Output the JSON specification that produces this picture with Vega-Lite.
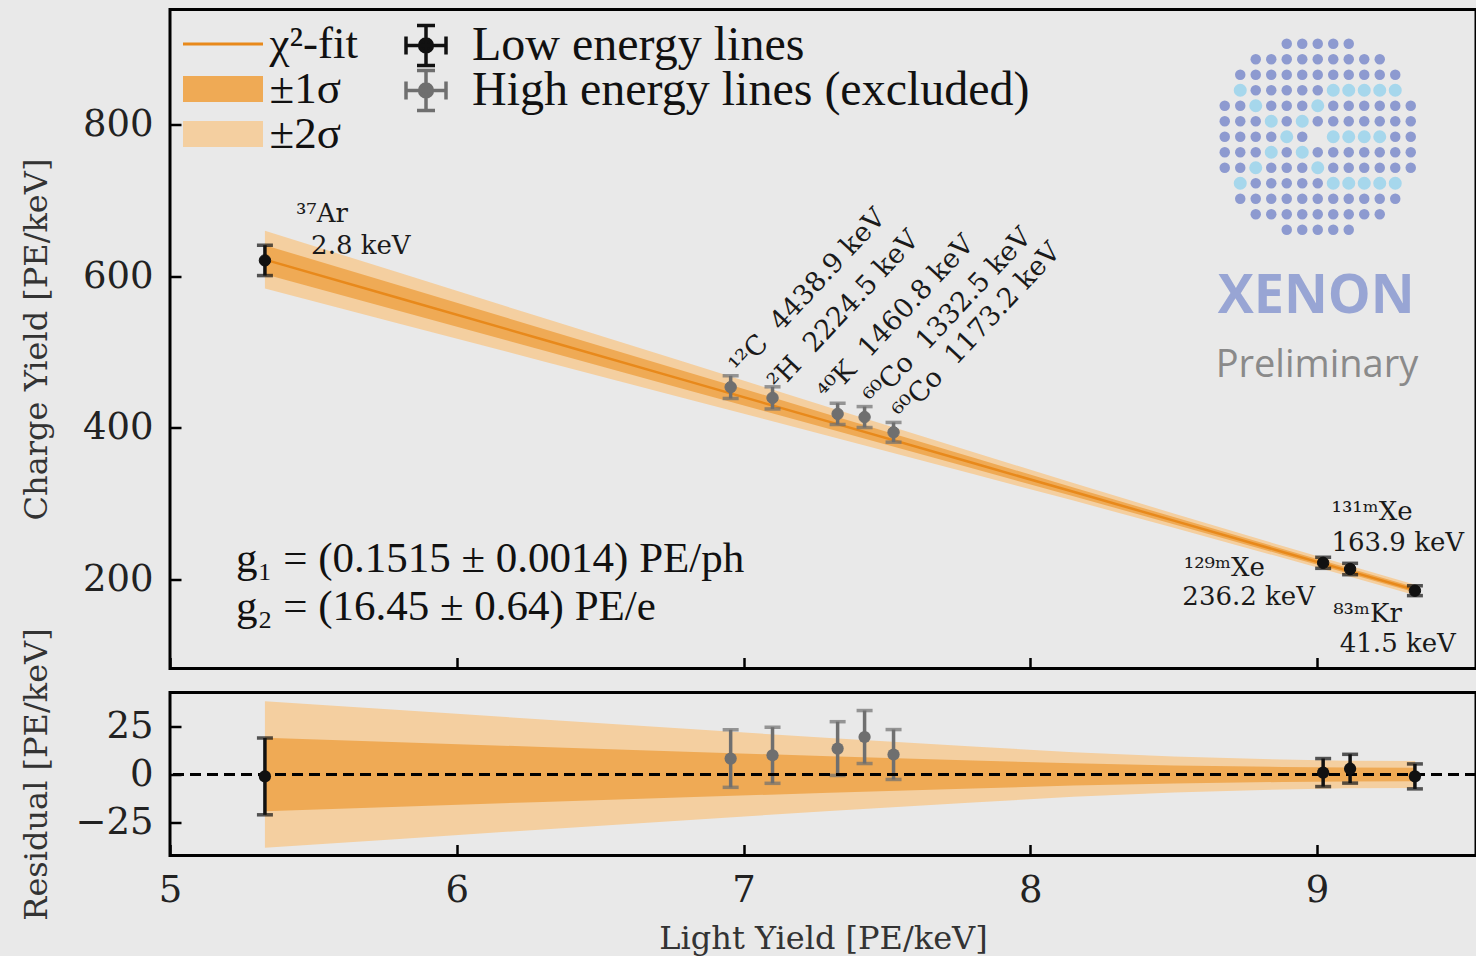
{
  "$schema": "https://vega.github.io/schema/vega-lite/v6.json",
  "background": "#e9e9e9",
  "padding": {"left": 18, "top": 7.5, "right": 0, "bottom": 0},
  "config": {
    "view": {"stroke": "#000000", "strokeWidth": 3},
    "axis": {"domain": false, "grid": false, "tickSize": -11, "tickWidth": 2.5, "tickColor": "#000000", "labelFont": "DejaVu Serif", "labelFontSize": 37, "labelColor": "#222222", "labelPadding": 28, "labelFlush": false, "labelOverlap": false, "titleFont": "DejaVu Serif", "titleFontSize": 32, "titleFontWeight": "normal", "titleColor": "#333333"},
    "legend": {"title": null, "orient": "none", "padding": 0, "labelFont": "Liberation Serif", "labelFontSize": 48, "labelColor": "#111111", "labelLimit": 0, "symbolSize": 1600, "symbolStrokeWidth": 3, "direction": "vertical"}
  },
  "datasets": {
    "band": [
      {"ly": 5.331, "fit": 621.8, "lo1": 602.7, "hi1": 640.9, "lo2": 583.6, "hi2": 660.0, "rlo1": -19.1, "rhi1": 19.1, "rlo2": -38.2, "rhi2": 38.2},
      {"ly": 5.8, "fit": 570.8, "lo1": 554.0, "hi1": 587.6, "lo2": 537.2, "hi2": 604.4, "rlo1": -16.8, "rhi1": 16.8, "rlo2": -33.6, "rhi2": 33.6},
      {"ly": 6.3, "fit": 516.5, "lo1": 502.2, "hi1": 530.8, "lo2": 487.9, "hi2": 545.1, "rlo1": -14.3, "rhi1": 14.3, "rlo2": -28.6, "rhi2": 28.6},
      {"ly": 6.8, "fit": 462.2, "lo1": 450.3, "hi1": 474.1, "lo2": 438.4, "hi2": 486.0, "rlo1": -11.9, "rhi1": 11.9, "rlo2": -23.8, "rhi2": 23.8},
      {"ly": 7.3, "fit": 407.9, "lo1": 398.4, "hi1": 417.4, "lo2": 388.9, "hi2": 426.9, "rlo1": -9.5, "rhi1": 9.5, "rlo2": -19.0, "rhi2": 19.0},
      {"ly": 7.8, "fit": 353.6, "lo1": 346.3, "hi1": 360.9, "lo2": 339.0, "hi2": 368.2, "rlo1": -7.3, "rhi1": 7.3, "rlo2": -14.6, "rhi2": 14.6},
      {"ly": 8.15, "fit": 315.6, "lo1": 309.8, "hi1": 321.4, "lo2": 304.0, "hi2": 327.2, "rlo1": -5.8, "rhi1": 5.8, "rlo2": -11.6, "rhi2": 11.6},
      {"ly": 8.5, "fit": 277.6, "lo1": 272.9, "hi1": 282.3, "lo2": 268.2, "hi2": 287.0, "rlo1": -4.7, "rhi1": 4.7, "rlo2": -9.4, "rhi2": 9.4},
      {"ly": 8.88, "fit": 236.3, "lo1": 232.4, "hi1": 240.2, "lo2": 228.5, "hi2": 244.1, "rlo1": -3.9, "rhi1": 3.9, "rlo2": -7.8, "rhi2": 7.8},
      {"ly": 9.1, "fit": 212.4, "lo1": 208.8, "hi1": 216.0, "lo2": 205.2, "hi2": 219.6, "rlo1": -3.6, "rhi1": 3.6, "rlo2": -7.2, "rhi2": 7.2},
      {"ly": 9.342, "fit": 186.2, "lo1": 182.7, "hi1": 189.7, "lo2": 179.2, "hi2": 193.2, "rlo1": -3.5, "rhi1": 3.5, "rlo2": -7.0, "rhi2": 7.0}
    ],
    "pts": [
      {"ly": 5.331, "cy": 620.8, "cyErr": 20, "res": -1.0, "resErr": 20, "grp": "Low energy lines"},
      {"ly": 9.021, "cy": 222.0, "cyErr": 7.3, "res": 1.0, "resErr": 7.3, "grp": "Low energy lines"},
      {"ly": 9.115, "cy": 213.8, "cyErr": 7.5, "res": 3.0, "resErr": 7.5, "grp": "Low energy lines"},
      {"ly": 9.341, "cy": 185.2, "cyErr": 6.5, "res": -1.0, "resErr": 6.5, "grp": "Low energy lines"},
      {"ly": 6.955, "cy": 453.7, "cyErr": 15, "res": 8.3, "resErr": 15, "grp": "High energy lines (excluded)"},
      {"ly": 7.101, "cy": 439.5, "cyErr": 14.6, "res": 10.0, "resErr": 14.6, "grp": "High energy lines (excluded)"},
      {"ly": 7.328, "cy": 418.4, "cyErr": 14, "res": 13.5, "resErr": 14, "grp": "High energy lines (excluded)"},
      {"ly": 7.422, "cy": 414.2, "cyErr": 13.8, "res": 19.5, "resErr": 13.8, "grp": "High energy lines (excluded)"},
      {"ly": 7.523, "cy": 394.1, "cyErr": 13, "res": 10.4, "resErr": 13, "grp": "High energy lines (excluded)"}
    ],
    "labH": [
      {"ly": 5.439, "cy": 670.8, "t": "³⁷Ar"},
      {"ly": 5.492, "cy": 628.6, "t": "2.8 keV"},
      {"ly": 8.535, "cy": 205.2, "t": "¹²⁹ᵐXe"},
      {"ly": 8.530, "cy": 165.7, "t": "236.2 keV"},
      {"ly": 9.050, "cy": 277.8, "t": "¹³¹ᵐXe"},
      {"ly": 9.050, "cy": 237.2, "t": "163.9 keV"},
      {"ly": 9.056, "cy": 143.7, "t": "⁸³ᵐKr"},
      {"ly": 9.079, "cy": 104.1, "t": "41.5 keV"}
    ],
    "labR": [
      {"ly": 6.990, "cy": 469.0, "t": "¹²C\u00a0\u00a04438.9 keV"},
      {"ly": 7.125, "cy": 448.0, "t": "²H\u00a0\u00a02224.5 keV"},
      {"ly": 7.299, "cy": 434.5, "t": "⁴⁰K\u00a0\u00a01460.8 keV"},
      {"ly": 7.460, "cy": 428.0, "t": "⁶⁰Co\u00a0\u00a01332.5 keV"},
      {"ly": 7.561, "cy": 408.5, "t": "⁶⁰Co\u00a0\u00a01173.2 keV"}
    ],
    "gtxt": [
      {"ly": 5.230, "cy": 210.5, "t": "g₁ = (0.1515 ± 0.0014) PE/ph"},
      {"ly": 5.230, "cy": 147.0, "t": "g₂ = (16.45 ± 0.64) PE/e"}
    ],
    "logoD": [
      {"c": 4, "r": 0}, {"c": 5, "r": 0}, {"c": 6, "r": 0}, {"c": 7, "r": 0}, {"c": 8, "r": 0},
      {"c": 2, "r": 1}, {"c": 3, "r": 1}, {"c": 4, "r": 1}, {"c": 5, "r": 1}, {"c": 6, "r": 1}, {"c": 7, "r": 1}, {"c": 8, "r": 1}, {"c": 9, "r": 1}, {"c": 10, "r": 1},
      {"c": 1, "r": 2}, {"c": 2, "r": 2}, {"c": 3, "r": 2}, {"c": 4, "r": 2}, {"c": 5, "r": 2}, {"c": 6, "r": 2}, {"c": 7, "r": 2}, {"c": 8, "r": 2}, {"c": 9, "r": 2}, {"c": 10, "r": 2}, {"c": 11, "r": 2},
      {"c": 2, "r": 3}, {"c": 3, "r": 3}, {"c": 4, "r": 3}, {"c": 5, "r": 3}, {"c": 6, "r": 3},
      {"c": 0, "r": 4}, {"c": 1, "r": 4}, {"c": 3, "r": 4}, {"c": 4, "r": 4}, {"c": 5, "r": 4}, {"c": 7, "r": 4}, {"c": 8, "r": 4}, {"c": 9, "r": 4}, {"c": 10, "r": 4}, {"c": 11, "r": 4}, {"c": 12, "r": 4},
      {"c": 0, "r": 5}, {"c": 1, "r": 5}, {"c": 2, "r": 5}, {"c": 4, "r": 5}, {"c": 6, "r": 5}, {"c": 7, "r": 5}, {"c": 8, "r": 5}, {"c": 9, "r": 5}, {"c": 10, "r": 5}, {"c": 11, "r": 5}, {"c": 12, "r": 5},
      {"c": 0, "r": 6}, {"c": 1, "r": 6}, {"c": 2, "r": 6}, {"c": 3, "r": 6}, {"c": 5, "r": 6}, {"c": 11, "r": 6}, {"c": 12, "r": 6},
      {"c": 0, "r": 7}, {"c": 1, "r": 7}, {"c": 2, "r": 7}, {"c": 4, "r": 7}, {"c": 6, "r": 7}, {"c": 7, "r": 7}, {"c": 8, "r": 7}, {"c": 9, "r": 7}, {"c": 10, "r": 7}, {"c": 11, "r": 7}, {"c": 12, "r": 7},
      {"c": 0, "r": 8}, {"c": 1, "r": 8}, {"c": 3, "r": 8}, {"c": 4, "r": 8}, {"c": 5, "r": 8}, {"c": 7, "r": 8}, {"c": 8, "r": 8}, {"c": 9, "r": 8}, {"c": 10, "r": 8}, {"c": 11, "r": 8}, {"c": 12, "r": 8},
      {"c": 2, "r": 9}, {"c": 3, "r": 9}, {"c": 4, "r": 9}, {"c": 5, "r": 9}, {"c": 6, "r": 9},
      {"c": 1, "r": 10}, {"c": 2, "r": 10}, {"c": 3, "r": 10}, {"c": 4, "r": 10}, {"c": 5, "r": 10}, {"c": 6, "r": 10}, {"c": 7, "r": 10}, {"c": 8, "r": 10}, {"c": 9, "r": 10}, {"c": 10, "r": 10}, {"c": 11, "r": 10},
      {"c": 2, "r": 11}, {"c": 3, "r": 11}, {"c": 4, "r": 11}, {"c": 5, "r": 11}, {"c": 6, "r": 11}, {"c": 7, "r": 11}, {"c": 8, "r": 11}, {"c": 9, "r": 11}, {"c": 10, "r": 11},
      {"c": 4, "r": 12}, {"c": 5, "r": 12}, {"c": 6, "r": 12}, {"c": 7, "r": 12}, {"c": 8, "r": 12}
    ],
    "logoC": [
      {"c": 1, "r": 3}, {"c": 7, "r": 3}, {"c": 8, "r": 3}, {"c": 9, "r": 3}, {"c": 10, "r": 3}, {"c": 11, "r": 3},
      {"c": 2, "r": 4}, {"c": 6, "r": 4},
      {"c": 3, "r": 5}, {"c": 5, "r": 5},
      {"c": 4, "r": 6}, {"c": 7, "r": 6}, {"c": 8, "r": 6}, {"c": 9, "r": 6}, {"c": 10, "r": 6},
      {"c": 3, "r": 7}, {"c": 5, "r": 7},
      {"c": 2, "r": 8}, {"c": 6, "r": 8},
      {"c": 1, "r": 9}, {"c": 7, "r": 9}, {"c": 8, "r": 9}, {"c": 9, "r": 9}, {"c": 10, "r": 9}, {"c": 11, "r": 9}
    ]
  },
  "spacing": 24,
  "bounds": "flush",
  "resolve": {
    "scale": {"x": "independent", "y": "independent", "fill": "independent", "stroke": "independent"},
    "legend": {"fill": "independent", "stroke": "independent"}
  },
  "vconcat": [
    {
      "width": 1306,
      "height": 659,
      "resolve": {"scale": {"x": "independent", "y": "independent", "fill": "independent", "stroke": "independent"}, "legend": {"fill": "independent", "stroke": "independent"}},
      "layer": [
        {
          "resolve": {"scale": {"fill": "independent", "stroke": "independent"}, "legend": {"fill": "independent", "stroke": "independent"}},
          "encoding": {
            "x": {"field": "ly", "type": "quantitative", "title": null, "scale": {"domain": [5, 9.554], "nice": false, "zero": false}, "axis": {"values": [5, 6, 7, 8, 9], "labels": false, "title": null}}
          },
          "layer": [
            {
              "data": {"name": "band"},
              "mark": {"type": "area", "opacity": 1},
              "encoding": {
                "y": {"field": "lo2", "type": "quantitative", "title": "Charge Yield [PE/keV]", "scale": {"domain": [82.6, 951.7], "nice": false, "zero": false}, "axis": {"values": [200, 400, 600, 800], "titleX": -117}},
                "y2": {"field": "hi2"},
                "fill": {
                  "datum": "±2σ", "type": "nominal",
                  "scale": {"domain": ["±2σ"], "range": ["#f4cfa0"]},
                  "legend": {"legendX": 15, "legendY": 102, "labelFontSize": 45, "labelOffset": 24, "symbolOffset": 15.5, "symbolStrokeColor": "transparent", "symbolType": "M-2,-0.65H2V0.65H-2Z", "symbolOpacity": 1}
                }
              }
            },
            {
              "data": {"name": "band"},
              "mark": {"type": "area", "opacity": 1},
              "encoding": {
                "y": {"field": "lo1", "type": "quantitative", "title": "Charge Yield [PE/keV]"},
                "y2": {"field": "hi1"},
                "fill": {
                  "datum": "±1σ", "type": "nominal",
                  "scale": {"domain": ["±1σ"], "range": ["#efaa55"]},
                  "legend": {"legendX": 15, "legendY": 57, "labelFontSize": 45, "labelOffset": 24, "symbolOffset": 15.5, "symbolStrokeColor": "transparent", "symbolType": "M-2,-0.65H2V0.65H-2Z", "symbolOpacity": 1}
                }
              }
            },
            {
              "data": {"name": "band"},
              "mark": {"type": "line", "strokeWidth": 2.5},
              "encoding": {
                "y": {"field": "fit", "type": "quantitative", "title": "Charge Yield [PE/keV]"},
                "stroke": {
                  "datum": "χ²-fit", "type": "nominal",
                  "scale": {"domain": ["χ²-fit"], "range": ["#e8891b"]},
                  "legend": {"legendX": 15, "legendY": 12, "labelFontSize": 45, "labelOffset": 24, "symbolOffset": 15.5, "symbolType": "M-2,0H2", "symbolStrokeWidth": 3, "symbolOpacity": 1}
                }
              }
            },
            {
              "data": {"name": "pts"},
              "transform": [{"filter": "datum.grp === 'High energy lines (excluded)'"}],
              "mark": {"type": "errorbar", "color": "#6f6f6f", "ticks": true, "size": 16, "thickness": 3.5},
              "encoding": {
                "y": {"field": "cy", "type": "quantitative", "title": "Charge Yield [PE/keV]"},
                "yError": {"field": "cyErr"}
              }
            },
            {
              "data": {"name": "pts"},
              "transform": [{"filter": "datum.grp === 'Low energy lines'"}],
              "mark": {"type": "errorbar", "color": "#111111", "ticks": true, "size": 16, "thickness": 3.5},
              "encoding": {
                "y": {"field": "cy", "type": "quantitative", "title": "Charge Yield [PE/keV]"},
                "yError": {"field": "cyErr"}
              }
            },
            {
              "data": {"name": "pts"},
              "transform": [{"filter": "datum.grp === 'High energy lines (excluded)'"}],
              "mark": {"type": "circle", "size": 130, "opacity": 1, "strokeWidth": 1},
              "encoding": {
                "y": {"field": "cy", "type": "quantitative", "title": "Charge Yield [PE/keV]"},
                "fill": {
                  "field": "grp", "type": "nominal",
                  "scale": {"domain": ["High energy lines (excluded)"], "range": ["#6f6f6f"]},
                  "legend": {"legendX": 232, "legendY": 57, "labelOffset": 22, "symbolOffset": 0, "symbolStrokeWidth": 3.5, "symbolOpacity": 1,
                    "symbolType": "M0,-1V1M-0.45,-1H0.45M-0.45,1H0.45M-1,0H1M-1,-0.45V0.45M1,-0.45V0.45M0.32,0A0.32,0.32,0,1,1,-0.32,0A0.32,0.32,0,1,1,0.32,0Z"}
                },
                "stroke": {
                  "field": "grp", "type": "nominal",
                  "scale": {"domain": ["High energy lines (excluded)"], "range": ["#6f6f6f"]},
                  "legend": {"legendX": 232, "legendY": 57, "labelOffset": 22, "symbolOffset": 0, "symbolStrokeWidth": 3.5, "symbolOpacity": 1,
                    "symbolType": "M0,-1V1M-0.45,-1H0.45M-0.45,1H0.45M-1,0H1M-1,-0.45V0.45M1,-0.45V0.45M0.32,0A0.32,0.32,0,1,1,-0.32,0A0.32,0.32,0,1,1,0.32,0Z"}
                }
              }
            },
            {
              "data": {"name": "pts"},
              "transform": [{"filter": "datum.grp === 'Low energy lines'"}],
              "mark": {"type": "circle", "size": 130, "opacity": 1, "strokeWidth": 1},
              "encoding": {
                "y": {"field": "cy", "type": "quantitative", "title": "Charge Yield [PE/keV]"},
                "fill": {
                  "field": "grp", "type": "nominal",
                  "scale": {"domain": ["Low energy lines"], "range": ["#111111"]},
                  "legend": {"legendX": 232, "legendY": 12, "labelOffset": 22, "symbolOffset": 0, "symbolStrokeWidth": 3.5, "symbolOpacity": 1,
                    "symbolType": "M0,-1V1M-0.45,-1H0.45M-0.45,1H0.45M-1,0H1M-1,-0.45V0.45M1,-0.45V0.45M0.32,0A0.32,0.32,0,1,1,-0.32,0A0.32,0.32,0,1,1,0.32,0Z"}
                },
                "stroke": {
                  "field": "grp", "type": "nominal",
                  "scale": {"domain": ["Low energy lines"], "range": ["#111111"]},
                  "legend": {"legendX": 232, "legendY": 12, "labelOffset": 22, "symbolOffset": 0, "symbolStrokeWidth": 3.5, "symbolOpacity": 1,
                    "symbolType": "M0,-1V1M-0.45,-1H0.45M-0.45,1H0.45M-1,0H1M-1,-0.45V0.45M1,-0.45V0.45M0.32,0A0.32,0.32,0,1,1,-0.32,0A0.32,0.32,0,1,1,0.32,0Z"}
                }
              }
            },
            {
              "data": {"name": "labH"},
              "mark": {"type": "text", "align": "left", "baseline": "alphabetic", "font": "DejaVu Serif", "fontSize": 26, "color": "#1a1a1a"},
              "encoding": {
                "y": {"field": "cy", "type": "quantitative", "title": "Charge Yield [PE/keV]"},
                "text": {"field": "t"}
              }
            },
            {
              "data": {"name": "labR"},
              "mark": {"type": "text", "align": "left", "baseline": "alphabetic", "angle": 313, "font": "DejaVu Serif", "fontSize": 27, "color": "#1a1a1a"},
              "encoding": {
                "y": {"field": "cy", "type": "quantitative", "title": "Charge Yield [PE/keV]"},
                "text": {"field": "t"}
              }
            },
            {
              "data": {"name": "gtxt"},
              "mark": {"type": "text", "align": "left", "baseline": "alphabetic", "font": "Liberation Serif", "fontSize": 43, "color": "#111111"},
              "encoding": {
                "y": {"field": "cy", "type": "quantitative", "title": "Charge Yield [PE/keV]"},
                "text": {"field": "t"}
              }
            }
          ]
        },
        {
          "encoding": {
            "x": {"field": "c", "type": "quantitative", "scale": {"domain": [-68.05, 16.21], "nice": false, "zero": false}, "axis": null},
            "y": {"field": "r", "type": "quantitative", "scale": {"domain": [-2.21, 40.31], "nice": false, "zero": false, "reverse": true}, "axis": null}
          },
          "layer": [
            {"data": {"name": "logoD"}, "mark": {"type": "circle", "size": 110, "color": "#8d9ad0", "opacity": 1}},
            {"data": {"name": "logoC"}, "mark": {"type": "circle", "size": 170, "color": "#a6d7ec", "opacity": 1}},
            {"data": {"values": [{"c": 5.9, "r": 17.4, "t": "XENON"}]}, "mark": {"type": "text", "align": "center", "baseline": "alphabetic", "font": "Open Sans", "fontWeight": "bold", "fontSize": 54, "color": "#98a5d4"}, "encoding": {"text": {"field": "t"}}},
            {"data": {"values": [{"c": 5.95, "r": 21.53, "t": "Preliminary"}]}, "mark": {"type": "text", "align": "center", "baseline": "alphabetic", "font": "Open Sans", "fontSize": 38, "color": "#8a8a8a"}, "encoding": {"text": {"field": "t"}}}
          ]
        }
      ]
    },
    {
      "width": 1306,
      "height": 163,
      "layer": [
        {
          "data": {"name": "band"},
          "mark": {"type": "area", "color": "#f4cfa0", "opacity": 1},
          "encoding": {
            "x": {"field": "ly", "type": "quantitative", "title": "Light Yield [PE/keV]", "scale": {"domain": [5, 9.554], "nice": false, "zero": false}, "axis": {"values": [5, 6, 7, 8, 9], "format": "d", "titleY": 68}},
            "y": {"field": "rlo2", "type": "quantitative", "title": "Residual [PE/keV]", "scale": {"domain": [-42.2, 42.7], "nice": false, "zero": false}, "axis": {"values": [-25, 0, 25], "titleX": -117}},
            "y2": {"field": "rhi2"}
          }
        },
        {
          "data": {"name": "band"},
          "mark": {"type": "area", "color": "#efaa55", "opacity": 1},
          "encoding": {
            "x": {"field": "ly", "type": "quantitative", "title": "Light Yield [PE/keV]"},
            "y": {"field": "rlo1", "type": "quantitative", "title": "Residual [PE/keV]"},
            "y2": {"field": "rhi1"}
          }
        },
        {
          "data": {"name": "pts"},
          "transform": [{"filter": "datum.grp === 'High energy lines (excluded)'"}],
          "mark": {"type": "errorbar", "color": "#6f6f6f", "ticks": true, "size": 16, "thickness": 3.5},
          "encoding": {
            "x": {"field": "ly", "type": "quantitative", "title": "Light Yield [PE/keV]"},
            "y": {"field": "res", "type": "quantitative", "title": "Residual [PE/keV]"},
            "yError": {"field": "resErr"}
          }
        },
        {
          "data": {"values": [{"zero": 0}]},
          "mark": {"type": "rule", "color": "#000000", "strokeWidth": 3, "strokeDash": [11, 6]},
          "encoding": {
            "y": {"field": "zero", "type": "quantitative", "title": "Residual [PE/keV]"}
          }
        },
        {
          "data": {"name": "pts"},
          "transform": [{"filter": "datum.grp === 'Low energy lines'"}],
          "mark": {"type": "errorbar", "color": "#111111", "ticks": true, "size": 16, "thickness": 3.5},
          "encoding": {
            "x": {"field": "ly", "type": "quantitative", "title": "Light Yield [PE/keV]"},
            "y": {"field": "res", "type": "quantitative", "title": "Residual [PE/keV]"},
            "yError": {"field": "resErr"}
          }
        },
        {
          "data": {"name": "pts"},
          "mark": {"type": "circle", "size": 150, "opacity": 1},
          "encoding": {
            "x": {"field": "ly", "type": "quantitative", "title": "Light Yield [PE/keV]"},
            "y": {"field": "res", "type": "quantitative", "title": "Residual [PE/keV]"},
            "fill": {"field": "grp", "type": "nominal", "scale": {"domain": ["Low energy lines", "High energy lines (excluded)"], "range": ["#111111", "#6f6f6f"]}, "legend": null}
          }
        }
      ]
    }
  ]
}
